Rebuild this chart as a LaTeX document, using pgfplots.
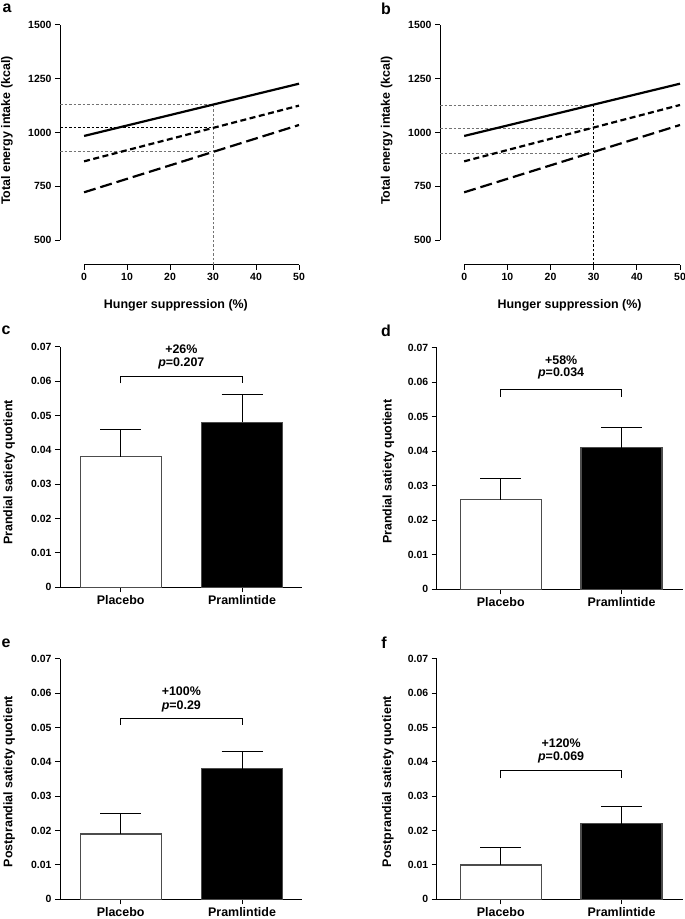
\documentclass[border=0pt]{standalone}
\usepackage{pgfplots}
\pgfplotsset{compat=1.18}
\usepackage{fontspec}
\setmainfont{Liberation Sans}
\newcommand{\tickfont}{\fontsize{10.5}{12}\selectfont\bfseries}
\newcommand{\labfont}{\fontsize{12.5}{14}\selectfont\bfseries}
\newcommand{\annfont}{\fontsize{12.5}{14}\selectfont\bfseries}
\tikzset{
  solidl/.style={black, line width=2.2bp},
  shortd/.style={black, line width=2.2bp, dash pattern=on 6bp off 3.5bp},
  longd/.style={black, line width=2.2bp, dash pattern=on 12bp off 5bp},
  refl/.style={black!55, line width=0.9bp, dash pattern=on 2.5bp off 2bp},
  refd/.style={black, line width=0.9bp, dash pattern=on 2.5bp off 2bp},
}
\pgfplotsset{
  panel/.style={scale only axis, anchor=south west, clip=false,
    axis x line=bottom, axis y line=left,
    axis line style={line width=1bp, -},
    tick style={line width=1bp, black},
    major tick length=5bp, tick align=outside,
    tick label style={font=\tickfont},
    label style={font=\labfont},
    scaled x ticks=false, scaled y ticks=false,
    /pgf/number format/assume math mode=true},
  linepanel/.style={panel, xmin=-5.6, xmax=50, ymin=384, ymax=1500,
    axis line style={draw=none},
    xtick={0,10,20,30,40,50}, xticklabels={0,10,20,30,40,50},
    ytick={500,750,1000,1250,1500}, yticklabels={500,750,1000,1250,1500},
    xlabel={Hunger suppression (\%)},
    ylabel={Total energy intake (kcal)}},
  barpanel/.style={panel, ymin=0, ymax=0.07,
    xtick={0,1}, xticklabels={Placebo,Pramlintide},
    x tick label style={font=\labfont},
    ytick={0,0.01,0.02,0.03,0.04,0.05,0.06,0.07},
    yticklabels={0,0.01,0.02,0.03,0.04,0.05,0.06,0.07}},
  placebo/.style={ybar, bar shift=0pt, bar width=81bp, fill=white, draw=black!70, line width=1.3bp,
    error bars/.cd, y dir=plus, y explicit,
    error bar style={black, line width=1bp},
    error mark options={black, line width=1bp, mark size=20.5bp, rotate=90}},
  pram/.style={ybar, bar shift=0pt, bar width=81bp, fill=black, draw=black!70, line width=1.3bp,
    error bars/.cd, y dir=plus, y explicit,
    error bar style={black, line width=1bp},
    error mark options={black, line width=1bp, mark size=20.5bp, rotate=90}},
}
\begin{document}
\begin{tikzpicture}
\path[use as bounding box] (0,0) rectangle (685bp,919bp);

% ---------- a ----------
\begin{axis}[linepanel, at={(60bp,654bp)}, width=239bp, height=240bp,
  xlabel style={at={(axis description cs:0.485,-0.167)}, anchor=center},
  ylabel style={at={(axis description cs:-0.222,0.56)}, anchor=center}]
\draw[line width=1bp] (axis cs:-5.6,500) -- (axis cs:-5.6,1500);
\draw[line width=1bp] (axis cs:0,384) -- (axis cs:50,384);
\draw[refl] (axis cs:-5.6,1130) -- (axis cs:30,1130);
\draw[refd] (axis cs:-5.6,1022) -- (axis cs:30,1022);
\draw[refl] (axis cs:-5.6,913) -- (axis cs:30,913);
\draw[refl] (axis cs:30,384) -- (axis cs:30,1130);
\addplot[solidl] coordinates {(0,984) (50,1227)};
\addplot[shortd] coordinates {(0,866) (50,1125)};
\addplot[longd] coordinates {(0,722) (50,1035)};
\end{axis}

% ---------- b ----------
\begin{axis}[linepanel, at={(440bp,654bp)}, width=240bp, height=240bp,
  xlabel style={at={(axis description cs:0.54,-0.167)}, anchor=center},
  ylabel style={at={(axis description cs:-0.222,0.56)}, anchor=center}]
\draw[line width=1bp] (axis cs:-5.6,500) -- (axis cs:-5.6,1500);
\draw[line width=1bp] (axis cs:0,384) -- (axis cs:50,384);
\draw[refl] (axis cs:-5.6,1128) -- (axis cs:30,1128);
\draw[refl] (axis cs:-5.6,1018) -- (axis cs:30,1018);
\draw[refl] (axis cs:-5.6,904) -- (axis cs:30,904);
\draw[refd] (axis cs:30,384) -- (axis cs:30,1128);
\addplot[solidl] coordinates {(0,984) (50,1227)};
\addplot[shortd] coordinates {(0,866) (50,1128)};
\addplot[longd] coordinates {(0,722) (50,1035)};
\end{axis}

% ---------- c ----------
\begin{axis}[barpanel, at={(60bp,331.7bp)}, width=242bp, height=240.6bp,
  xmin=-0.5, xmax=1.494,
  ylabel={Prandial satiety quotient},
  ylabel style={at={(axis description cs:-0.21,0.477)}, anchor=center}]
\addplot[placebo] coordinates {(0,0.038) +- (0,0.008)};
\addplot[pram] coordinates {(1,0.048) +- (0,0.008)};
\draw[line width=1bp] (axis cs:0,0.0593) |- (axis cs:1,0.0612) -- (axis cs:1,0.0593);
\node[font=\annfont] at (axis cs:0.5,0.0693) {+26\%};
\node[font=\annfont] at (axis cs:0.5,0.0652) {\textit{p}=0.207};
\end{axis}

% ---------- d ----------
\begin{axis}[barpanel, at={(436.7bp,329.7bp)}, width=246bp, height=241.6bp,
  xmin=-0.53, xmax=1.506,
  ylabel={Prandial satiety quotient},
  ylabel style={at={(axis description cs:-0.196,0.487)}, anchor=center}]
\addplot[placebo] coordinates {(0,0.026) +- (0,0.006)};
\addplot[pram] coordinates {(1,0.041) +- (0,0.006)};
\draw[line width=1bp] (axis cs:0,0.0558) |- (axis cs:1,0.058) -- (axis cs:1,0.0558);
\node[font=\annfont] at (axis cs:0.5,0.0665) {+58\%};
\node[font=\annfont] at (axis cs:0.5,0.0624) {\textit{p}=0.034};
\end{axis}

% ---------- e ----------
\begin{axis}[barpanel, at={(60bp,19.7bp)}, width=242bp, height=240.6bp,
  xmin=-0.5, xmax=1.494,
  ylabel={Postprandial satiety quotient},
  ylabel style={at={(axis description cs:-0.21,0.489)}, anchor=center}]
\addplot[placebo] coordinates {(0,0.019) +- (0,0.006)};
\addplot[pram] coordinates {(1,0.038) +- (0,0.005)};
\draw[line width=1bp] (axis cs:0,0.0507) |- (axis cs:1,0.0526) -- (axis cs:1,0.0507);
\node[font=\annfont] at (axis cs:0.5,0.0606) {+100\%};
\node[font=\annfont] at (axis cs:0.5,0.0562) {\textit{p}=0.29};
\end{axis}

% ---------- f ----------
\begin{axis}[barpanel, at={(436.7bp,19.7bp)}, width=246bp, height=240.6bp,
  xmin=-0.53, xmax=1.506,
  ylabel={Postprandial satiety quotient},
  ylabel style={at={(axis description cs:-0.198,0.489)}, anchor=center}]
\addplot[placebo] coordinates {(0,0.010) +- (0,0.005)};
\addplot[pram] coordinates {(1,0.022) +- (0,0.005)};
\draw[line width=1bp] (axis cs:0,0.0352) |- (axis cs:1,0.0374) -- (axis cs:1,0.0352);
\node[font=\annfont] at (axis cs:0.5,0.0454) {+120\%};
\node[font=\annfont] at (axis cs:0.5,0.0412) {\textit{p}=0.069};
\end{axis}

% panel letters
\begin{scope}[every node/.style={font=\fontsize{16}{18}\selectfont\bfseries}]
\node at (7bp,911bp) {a};
\node at (386bp,910.5bp) {b};
\node at (6bp,589bp) {c};
\node at (386bp,588bp) {d};
\node at (6bp,276bp) {e};
\node at (384bp,276bp) {f};
\end{scope}
\end{tikzpicture}
\end{document}
